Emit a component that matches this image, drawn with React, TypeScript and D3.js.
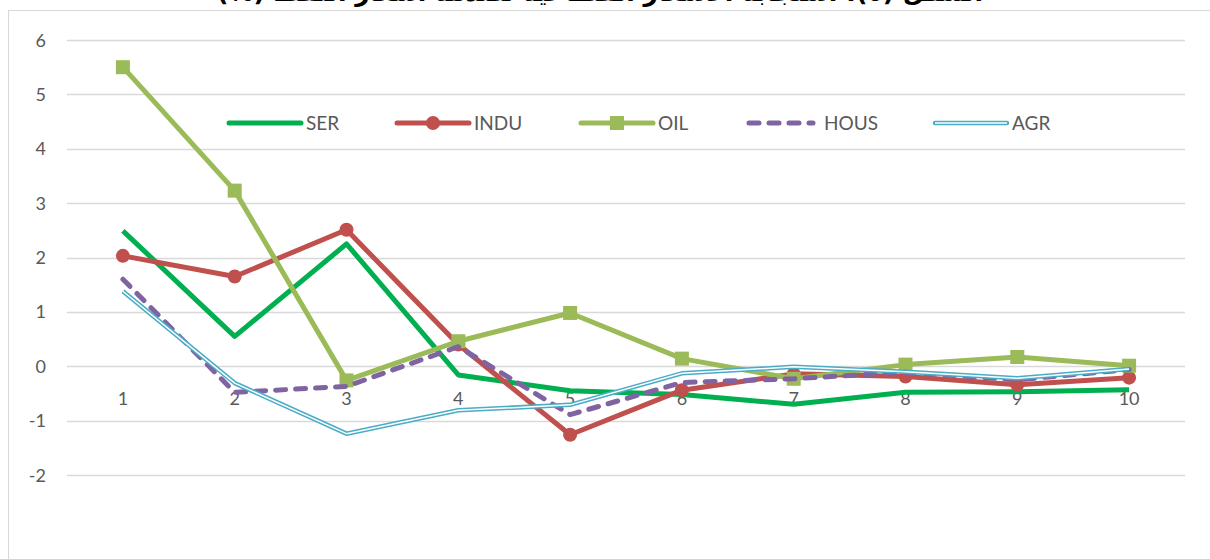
import React, { useEffect, useRef } from 'react';
import * as d3 from 'd3';

// 기간 (x축 카테고리)
const periods = ['1', '2', '3', '4', '5', '6', '7', '8', '9', '10'];
const yTicks = [-2, -1, 0, 1, 2, 3, 4, 5, 6];

// 시리즈 값
const ser = [2.49, 0.55, 2.25, -0.16, -0.45, -0.52, -0.7, -0.48, -0.47, -0.43];
const indu = [2.03, 1.65, 2.51, 0.4, -1.26, -0.44, -0.14, -0.19, -0.34, -0.21];
const oil = [5.5, 3.23, -0.26, 0.46, 0.98, 0.14, -0.23, 0.03, 0.17, 0.01];
const hous = [1.6, -0.48, -0.37, 0.36, -0.89, -0.3, -0.23, -0.11, -0.25, -0.06];
const agr = [1.38, -0.31, -1.24, -0.81, -0.71, -0.13, -0.01, -0.1, -0.22, -0.05];

const seriesNames = ['SER', 'INDU', 'OIL', 'HOUS', 'AGR'];

const App = () => {
    const svgRef = useRef(null);

    useEffect(() => {
        const svg = d3.select(svgRef.current);
        svg.selectAll('*').remove();

        const font = 'Lato, "Open Sans", sans-serif';
        const sw = 5;

        // 제목 (원본에서도 위쪽이 잘려 아래쪽만 보임)
        svg.append('text')
            .attr('x', 600)
            .attr('y', 1)
            .attr('text-anchor', 'middle')
            .attr('font-family', '"DejaVu Sans", sans-serif')
            .attr('font-weight', 'bold')
            .attr('font-size', 25)
            .attr('direction', 'rtl')
            .text('الشكل (٥): استجابة الأسعار القطاعية لصدمة أسعار النفط (%)');

        // 차트 영역 테두리
        svg.append('rect')
            .attr('x', 8.5).attr('y', 10.5)
            .attr('width', 1220).attr('height', 570)
            .attr('fill', '#fff')
            .attr('stroke', '#d9d9d9');

        const x = d3.scalePoint().domain(periods).range([67, 1185]).padding(0.5);
        const y = d3.scaleLinear().domain([-2, 6]).range([475, 40]);

        // 그리드
        svg.append('g').selectAll('line').data(yTicks).join('line')
            .attr('x1', 67).attr('x2', 1185)
            .attr('y1', d => Math.round(y(d)) + 0.5)
            .attr('y2', d => Math.round(y(d)) + 0.5)
            .attr('stroke', '#d9d9d9').attr('stroke-width', 1.3);

        svg.append('g').selectAll('text').data(yTicks).join('text')
            .attr('x', 46).attr('y', d => y(d) + 6.5)
            .attr('text-anchor', 'end')
            .attr('font-family', font).attr('font-size', 18).attr('fill', '#595959')
            .text(d => `${d}`);

        // x축 라벨 (0 선 바로 아래)
        svg.append('g').selectAll('text').data(periods).join('text')
            .attr('x', d => x(d)).attr('y', y(0) + 39)
            .attr('text-anchor', 'middle')
            .attr('font-family', font).attr('font-size', 18).attr('fill', '#595959')
            .text(d => d);

        const line = d3.line<number>()
            .x((_, i) => x(periods[i]))
            .y(d => y(d));

        const g = svg.append('g');

        // SER
        g.append('path').datum(ser)
            .attr('fill', 'none').attr('stroke', '#00B050').attr('stroke-width', sw)
            .attr('stroke-linejoin', 'round').attr('d', line);

        // INDU
        g.append('path').datum(indu)
            .attr('fill', 'none').attr('stroke', '#C0504D').attr('stroke-width', sw)
            .attr('stroke-linejoin', 'round').attr('d', line);
        g.append('g').selectAll('circle').data(indu).join('circle')
            .attr('cx', (_, i) => x(periods[i])).attr('cy', d => y(d))
            .attr('r', 7).attr('fill', '#C0504D');

        // OIL
        g.append('path').datum(oil)
            .attr('fill', 'none').attr('stroke', '#9BBB59').attr('stroke-width', sw)
            .attr('stroke-linejoin', 'round').attr('d', line);
        g.append('g').selectAll('rect').data(oil).join('rect')
            .attr('x', (_, i) => x(periods[i]) - 7).attr('y', d => y(d) - 7)
            .attr('width', 14).attr('height', 14).attr('fill', '#9BBB59');

        // HOUS (점선)
        g.append('path').datum(hous)
            .attr('fill', 'none').attr('stroke', '#8064A2').attr('stroke-width', sw)
            .attr('stroke-dasharray', '10 10').attr('stroke-linecap', 'round')
            .attr('stroke-linejoin', 'round').attr('d', line);

        // AGR (이중선)
        g.append('path').datum(agr)
            .attr('fill', 'none').attr('stroke', '#4BACC6').attr('stroke-width', 4.5)
            .attr('stroke-linejoin', 'round').attr('d', line);
        g.append('path').datum(agr)
            .attr('fill', 'none').attr('stroke', '#fff').attr('stroke-width', 1.5)
            .attr('stroke-linejoin', 'round').attr('d', line);

        // 범례
        const legendX = [229, 397, 581, 747, 935];
        const ly = 123;
        const leg = svg.append('g');
        seriesNames.forEach((name, i) => {
            const x0 = legendX[i];
            const x1 = x0 + 72;
            if (name === 'SER') {
                leg.append('line').attr('x1', x0).attr('x2', x1).attr('y1', ly).attr('y2', ly)
                    .attr('stroke', '#00B050').attr('stroke-width', sw).attr('stroke-linecap', 'round');
            } else if (name === 'INDU') {
                leg.append('line').attr('x1', x0).attr('x2', x1).attr('y1', ly).attr('y2', ly)
                    .attr('stroke', '#C0504D').attr('stroke-width', sw).attr('stroke-linecap', 'round');
                leg.append('circle').attr('cx', (x0 + x1) / 2).attr('cy', ly).attr('r', 7).attr('fill', '#C0504D');
            } else if (name === 'OIL') {
                leg.append('line').attr('x1', x0).attr('x2', x1).attr('y1', ly).attr('y2', ly)
                    .attr('stroke', '#9BBB59').attr('stroke-width', sw).attr('stroke-linecap', 'round');
                leg.append('rect').attr('x', (x0 + x1) / 2 - 7).attr('y', ly - 7)
                    .attr('width', 14).attr('height', 14).attr('fill', '#9BBB59');
            } else if (name === 'HOUS') {
                leg.append('line').attr('x1', x0 + 2).attr('x2', x1 - 6).attr('y1', ly).attr('y2', ly)
                    .attr('stroke', '#8064A2').attr('stroke-width', sw)
                    .attr('stroke-dasharray', '10 10').attr('stroke-linecap', 'round');
            } else {
                leg.append('line').attr('x1', x0).attr('x2', x1).attr('y1', ly).attr('y2', ly)
                    .attr('stroke', '#4BACC6').attr('stroke-width', 4.5).attr('stroke-linecap', 'round');
                leg.append('line').attr('x1', x0).attr('x2', x1).attr('y1', ly).attr('y2', ly)
                    .attr('stroke', '#fff').attr('stroke-width', 1.5);
            }
            leg.append('text')
                .attr('x', x1 + 5).attr('y', ly + 7)
                .attr('font-family', font).attr('font-size', 19).attr('fill', '#595959')
                .text(name);
        });
    }, []);

    return (
        <svg ref={svgRef} width={1210} height={559}
            style={{ position: 'absolute', left: 0, top: 0, background: '#fff' }} />
    );
};

export default App;
